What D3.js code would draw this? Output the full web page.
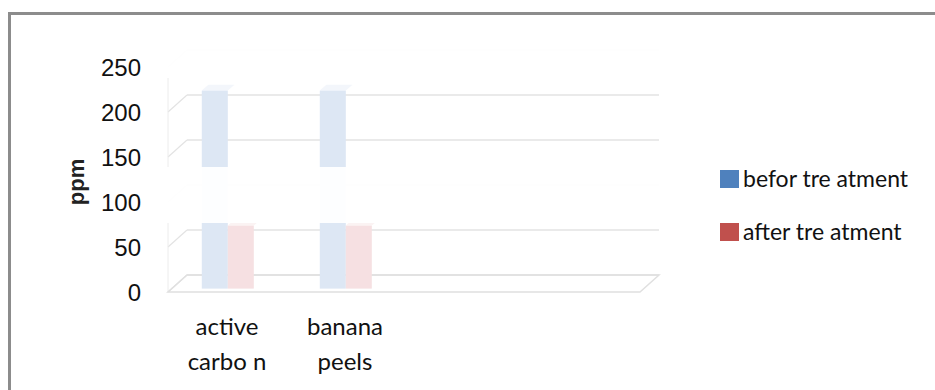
<!DOCTYPE html>
<html>
<head>
<meta charset="utf-8">
<script src="https://cdn.jsdelivr.net/npm/d3@7"></script>
<style>
  body { margin: 0; background: #fff; }
  svg { display: block; }
</style>
</head>
<body>
<div id="chart"></div>
<script>
// Data
const categories = ["active\ncarbo n", "banana\npeels", "", ""];
const seriesNames = ["befor tre atment", "after tre atment"];
const beforeValues = [220, 220, null, null];
const afterValues = [70, 70, null, null];
const yTicks = [0, 50, 100, 150, 200, 250];

const width = 935, height = 390;
const DX = 19, DY = -17;          // depth of the 3d box
const barShift = 0.2;             // bars sit a little behind the front plane

const faceColors = ["#dde7f4", "#f6e0e2"];
const topColors = ["#f3f6fb", "#fbf3f3"];
const legendColors = ["#4f81bd", "#c0504d"];

const svg = d3.select("#chart")
  .append("svg")
    .attr("width", width)
    .attr("height", height);

// Outer frame
svg.append("rect")
  .attr("x", 9.5).attr("y", 13.5)
  .attr("width", width + 10).attr("height", height + 10)
  .attr("fill", "none")
  .attr("stroke", "#8c8c8c")
  .attr("stroke-width", 3);

// Scales
const y = d3.scaleLinear().domain([0, 250]).range([292, 67]);
const x0 = d3.scaleBand().domain(d3.range(categories.length)).range([168, 640]);
const x1 = d3.scaleBand().domain(seriesNames).range([0, 52]);

const left = x0.range()[0], right = x0.range()[1];
const gridColor = "#e3e3e3";

// Back wall gridlines + left wall diagonals
const grid = svg.append("g");
grid.selectAll(".back")
  .data(yTicks)
  .join("line")
    .attr("x1", left + DX).attr("x2", right + DX)
    .attr("y1", d => y(d) + DY).attr("y2", d => y(d) + DY)
    .attr("stroke", gridColor).attr("stroke-width", 1.5);
grid.selectAll(".side")
  .data(yTicks)
  .join("line")
    .attr("x1", left).attr("x2", left + DX)
    .attr("y1", d => y(d)).attr("y2", d => y(d) + DY)
    .attr("stroke", gridColor).attr("stroke-width", 1.2);
// left wall edge
grid.append("line")
  .attr("x1", left).attr("x2", left)
  .attr("y1", y(0)).attr("y2", y(250))
  .attr("stroke", "#ececec");
// floor
grid.append("path")
  .attr("d", `M${left},${y(0)}L${right},${y(0)}L${right + DX},${y(0) + DY}L${left + DX},${y(0) + DY}Z`)
  .attr("fill", "none")
  .attr("stroke", "#e0e0e0")
  .attr("stroke-width", 1.5);

// Bars
const series = [beforeValues, afterValues];
const bx = DX * barShift, by = DY * barShift;
const bdx = DX * 0.35, bdy = DY * 0.35;
const bars = svg.append("g");
series.forEach((values, si) => {
  values.forEach((v, ci) => {
    if (v == null) return;
    const xl = x0(ci) + x0.bandwidth() / 2 - 26 + x1(seriesNames[si]) + bx - 3;
    const w = x1.bandwidth();
    const yt = y(v) + by, yb = y(0) + by;
    bars.append("path")
      .attr("d", `M${xl},${yt}L${xl + bdx},${yt + bdy}L${xl + w + bdx},${yt + bdy}L${xl + w},${yt}Z`)
      .attr("fill", topColors[si]);
    bars.append("rect")
      .attr("x", xl).attr("y", yt)
      .attr("width", w).attr("height", yb - yt)
      .attr("fill", faceColors[si]);
  });
});

// Washed out bands of the faded picture
svg.append("rect")
  .attr("x", 150).attr("y", 167).attr("width", 540).attr("height", 56)
  .attr("fill", "#fff").attr("fill-opacity", 0.94);
svg.append("rect")
  .attr("x", 150).attr("y", 20).attr("width", 540).attr("height", 58)
  .attr("fill", "#fff").attr("fill-opacity", 0.94);

// Y tick labels
svg.append("g")
  .selectAll("text")
  .data(yTicks)
  .join("text")
    .attr("x", 141)
    .attr("y", d => y(d))
    .attr("text-anchor", "end")
    .attr("dominant-baseline", "central")
    .style("font-family", "'Liberation Sans', Arial, sans-serif")
    .style("font-size", "24px")
    .attr("fill", "#111")
    .text(d => d);

// Y axis title
svg.append("text")
  .attr("transform", `translate(84, 182) rotate(-90)`)
  .attr("text-anchor", "middle")
  .style("font-family", "'Liberation Sans', Arial, sans-serif")
  .style("font-size", "22px")
  .style("font-weight", "bold")
  .attr("fill", "#222")
  .text("ppm");

// Category labels
const catLabels = svg.append("g")
  .selectAll("text")
  .data(categories)
  .join("text")
    .attr("x", (d, i) => x0(i) + x0.bandwidth() / 2)
    .attr("y", 335)
    .attr("text-anchor", "middle")
    .style("font-family", "Lato, 'Open Sans', sans-serif")
    .style("font-size", "24px")
    .attr("fill", "#111");
catLabels.selectAll("tspan")
  .data(d => d.split("\n").filter(s => s))
  .join("tspan")
    .attr("x", function() { return this.parentNode.getAttribute("x"); })
    .attr("dy", (d, i) => i === 0 ? 0 : 35)
    .text(d => d);

// Legend
const legend = svg.append("g")
  .selectAll("g")
  .data(seriesNames)
  .join("g")
    .attr("transform", (d, i) => `translate(720, ${170 + i * 53})`);
legend.append("rect")
  .attr("width", 19).attr("height", 18)
  .attr("fill", (d, i) => legendColors[i]);
legend.append("text")
  .attr("x", 23).attr("y", 17)
  .style("font-family", "Lato, 'Open Sans', sans-serif")
  .style("font-size", "23px")
  .attr("fill", "#111")
  .text(d => d);
</script>
</body>
</html>
